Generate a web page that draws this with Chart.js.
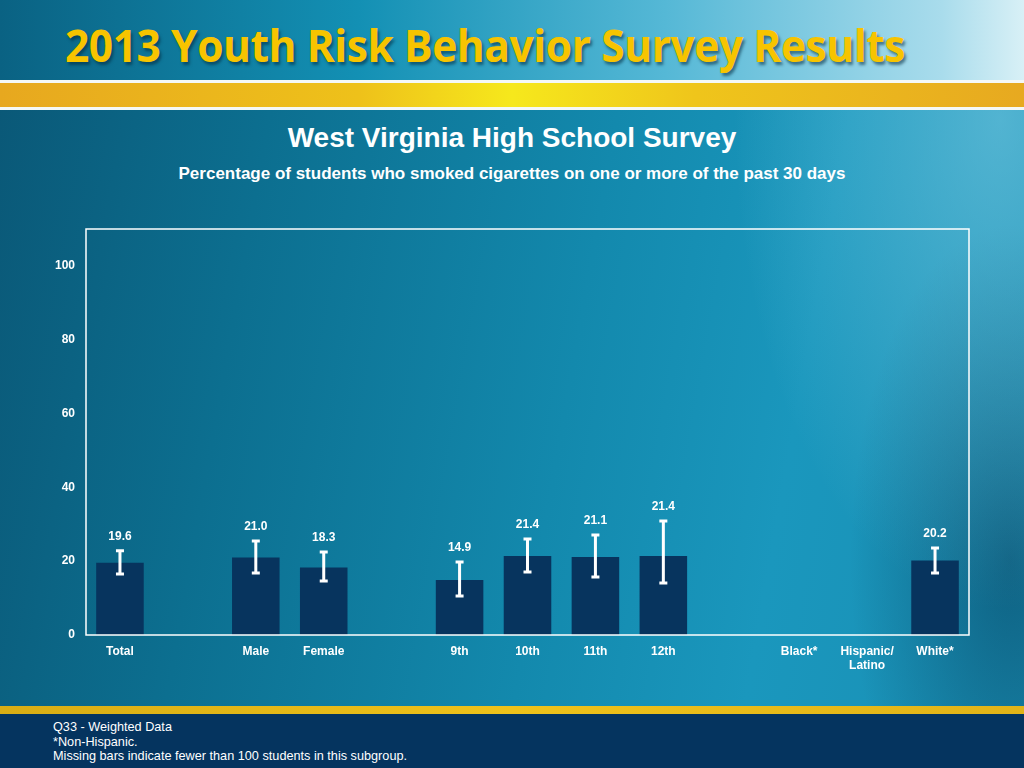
<!DOCTYPE html>
<html>
<head>
<meta charset="utf-8">
<script src="https://cdn.jsdelivr.net/npm/chart.js@4"></script>
<style>
  html,body{margin:0;padding:0;}
  body{width:1024px;height:768px;overflow:hidden;position:relative;font-family:"Liberation Sans",Arial,sans-serif;
    background:
      radial-gradient(ellipse 380px 700px at 1000px 120px, rgba(150,220,240,0.45), rgba(150,220,240,0) 70%),
      radial-gradient(ellipse 200px 420px at 1010px 560px, rgba(5,60,90,0.55), rgba(5,60,90,0) 80%),
      linear-gradient(100deg, #0a5776 0%, #0c6f90 25%, #1389ad 55%, #1a97bd 75%, #1a8fb4 100%);}
  #hdr{position:absolute;left:0;top:0;width:1024px;height:80px;
    background:linear-gradient(90deg,#0a6283 0%,#1390b4 35%,#55b8d6 65%,#a9dcec 92%,#d8f0f6 100%);}
  #hdrTitle{position:absolute;left:65px;top:17px;white-space:nowrap;color:#f7c400;font-family:"Open Sans",sans-serif;font-weight:700;font-size:44px;line-height:56px;transform-origin:0 0;text-shadow:2px 3px 3px rgba(0,40,60,0.55);letter-spacing:-0.5px;}
  #wl1{position:absolute;left:0;top:80px;width:1024px;height:3px;background:#f4f8f6;}
  #band{position:absolute;left:0;top:83px;width:1024px;height:24px;background:linear-gradient(90deg,#e7a81f 0%,#eec11a 35%,#f6e81c 50%,#efc51b 68%,#e7a920 100%);}
  #wl2{position:absolute;left:0;top:107px;width:1024px;height:3px;background:#f4f8f6;}
  #t1{position:absolute;left:0;width:1024px;top:121px;text-align:center;color:#fff;font-weight:700;font-size:28px;line-height:34px;}
  #t2{position:absolute;left:0;width:1024px;top:164px;text-align:center;color:#fff;font-weight:700;font-size:17px;line-height:20px;}
  #fy{position:absolute;left:0;top:706px;width:1024px;height:8px;background:linear-gradient(90deg,#d9ad14,#efc21a,#e2b418);}
  #fb{position:absolute;left:0;top:714px;width:1024px;height:54px;background:#05345f;}
  #fn{position:absolute;left:53px;top:720px;color:#fff;font-size:12.7px;line-height:14.5px;}
  #cw{position:absolute;left:0;top:200px;width:1024px;height:490px;}
</style>
</head>
<body>
<div id="hdr"><div id="hdrTitle">2013 Youth Risk Behavior Survey Results</div></div>
<div id="wl1"></div><div id="band"></div><div id="wl2"></div>
<div id="t1">West Virginia High School Survey</div>
<div id="t2">Percentage of students who smoked cigarettes on one or more of the past 30 days</div>
<div id="cw"><canvas id="c" width="1024" height="490"></canvas></div>
<div id="fy"></div><div id="fb"></div>
<div id="fn">Q33 - Weighted Data<br>*Non-Hispanic.<br>Missing bars indicate fewer than 100 students in this subgroup.</div>
<script>
// fit header title width
(function(){var el=document.getElementById('hdrTitle');var w=el.getBoundingClientRect().width;el.style.transform='scaleX('+(840/w)+')';})();

const categories = ["Total", "", "Male", "Female", "", "9th", "10th", "11th", "12th", "", "Black*", ["Hispanic/", "Latino"], "White*"];
const values     = [19.6, null, 21.0, 18.3, null, 14.9, 21.4, 21.1, 21.4, null, null, null, 20.2];
const errLow     = [16.5, null, 16.8, 14.6, null, 10.6, 17.1, 15.7, 14.1, null, null, null, 16.8];
const errHigh    = [22.8, null, 25.5, 22.5, null, 19.8, 26.0, 27.1, 30.9, null, null, null, 23.6];
const yTicks     = [0, 20, 40, 60, 80, 100];

const overlay = {
  id: 'overlay',
  afterDatasetsDraw(chart) {
    const {ctx, chartArea: a, scales: {x, y}} = chart;
    ctx.save();
    ctx.strokeStyle = '#ffffff';
    ctx.lineWidth = 1.5;
    ctx.strokeRect(a.left, a.top, a.right - a.left, a.bottom - a.top);
    ctx.lineWidth = 3;
    ctx.fillStyle = '#ffffff';
    ctx.font = 'bold 12px "Liberation Sans", Arial, sans-serif';
    ctx.textAlign = 'center';
    ctx.textBaseline = 'middle';
    values.forEach((v, i) => {
      if (v == null) return;
      const cx = x.getPixelForValue(i);
      const yl = y.getPixelForValue(errLow[i]);
      const yh = y.getPixelForValue(errHigh[i]);
      ctx.beginPath();
      ctx.moveTo(cx, yl); ctx.lineTo(cx, yh);
      ctx.moveTo(cx - 4, yl); ctx.lineTo(cx + 4, yl);
      ctx.moveTo(cx - 4, yh); ctx.lineTo(cx + 4, yh);
      ctx.stroke();
      ctx.fillText(v.toFixed(1), cx, yh - 14);
    });
    ctx.restore();
  }
};

new Chart(document.getElementById('c'), {
  type: 'bar',
  data: {
    labels: categories,
    datasets: [{
      data: values,
      backgroundColor: '#07345e',
      borderWidth: 0,
      barPercentage: 0.7,
      categoryPercentage: 1.0
    }]
  },
  options: {
    responsive: false,
    animation: false,
    layout: { padding: { left: 0, right: 55, top: 29, bottom: 0 } },
    plugins: { legend: { display: false }, tooltip: { enabled: false }, title: { display: false } },
    scales: {
      x: {
        grid: { display: false, drawTicks: false },
        border: { display: false },
        ticks: { color: '#ffffff', font: { family: '"Liberation Sans", Arial, sans-serif', size: 12, weight: 'bold' }, padding: 9, maxRotation: 0, autoSkip: false },
        afterFit(s) { s.height = 55; }
      },
      y: {
        min: 0, max: 110,
        grid: { display: false, drawTicks: false },
        border: { display: false },
        afterBuildTicks(s) { s.ticks = yTicks.map(v => ({ value: v })); },
        ticks: { color: '#ffffff', font: { family: '"Liberation Sans", Arial, sans-serif', size: 12, weight: 'bold' }, padding: 11 },
        afterFit(s) { s.width = 86; }
      }
    }
  },
  plugins: [overlay]
});
</script>
</body>
</html>
